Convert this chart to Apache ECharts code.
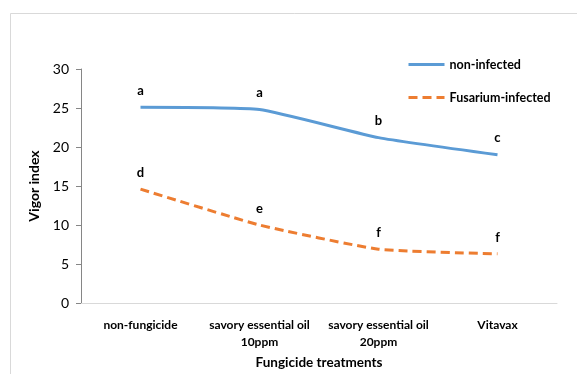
<!DOCTYPE html>
<html>
<head>
<meta charset="utf-8">
<script src="https://cdn.jsdelivr.net/npm/echarts@6/dist/echarts.min.js"></script>
<style>
  html, body { margin: 0; padding: 0; background: #fff; }
  #main { width: 577px; height: 374px; }
</style>
</head>
<body>
<div id="main"></div>
<script>
  // 处理名称
  var categories = ['non-fungicide', 'savory essential oil\n10ppm', 'savory essential oil\n20ppm', 'Vitavax']
  var nonInfected = [25.1, 24.8, 21.2, 19.0]
  var fusariumInfected = [14.6, 10.0, 6.9, 6.3]
  // 显著性字母
  var lettersNon = ['a', 'a', 'b', 'c']
  var lettersFus = ['d', 'e', 'f', 'f']
  var yTicks = [0, 5, 10, 15, 20, 25, 30]

  var font = 'Lato, "Open Sans", sans-serif'
  var myChart = echarts.init(document.getElementById('main'))

  function letterLabel(letters) {
    return {
      show: true,
      position: 'top',
      distance: 10,
      fontFamily: font,
      fontWeight: 'bold',
      fontSize: 13,
      color: '#000',
      formatter: function (p) { return letters[p.dataIndex] }
    }
  }

  var option = {
    backgroundColor: '#fff',
    animation: false,
    graphic: [{
      type: 'rect',
      shape: { x: 10.5, y: 13.5, width: 600, height: 400 },
      style: { fill: 'none', stroke: '#d9d9d9', lineWidth: 1 },
      silent: true
    }],
    legend: {
      orient: 'vertical',
      left: 402,
      top: 53,
      itemWidth: 36,
      itemHeight: 14,
      itemGap: 20,
      itemStyle: { opacity: 0 },
      lineStyle: { width: 3 },
      textStyle: { fontFamily: font, fontWeight: 'bold', fontSize: 12.5, color: '#000' },
      data: ['non-infected', 'Fusarium-infected']
    },
    grid: { left: 81, right: 20, top: 69, bottom: 71, outerBoundsMode: 'none', containLabel: false },
    xAxis: {
      type: 'category',
      data: categories,
      boundaryGap: true,
      name: 'Fungicide treatments',
      nameLocation: 'middle',
      nameGap: 52,
      nameTextStyle: { fontFamily: font, fontWeight: 'bold', fontSize: 13.5, color: '#000' },
      axisLine: { lineStyle: { color: '#d9d9d9', width: 1 } },
      axisTick: { show: false },
      axisLabel: {
        margin: 14,
        fontFamily: font, fontWeight: 'bold', fontSize: 12, color: '#000', lineHeight: 17,
        interval: 0
      }
    },
    yAxis: {
      type: 'value',
      min: 0,
      max: 30,
      interval: 5,
      name: 'Vigor index',
      nameLocation: 'middle',
      nameGap: 40,
      nameTextStyle: { fontFamily: font, fontWeight: 'bold', fontSize: 14, color: '#000' },
      axisLine: { show: true, lineStyle: { color: '#868686', width: 1 } },
      axisTick: { show: true, length: 5, lineStyle: { color: '#868686' } },
      splitLine: { show: false },
      axisLabel: {
        margin: 12,
        fontFamily: font, fontSize: 14, color: '#000',
        formatter: function (v) { return yTicks.indexOf(v) >= 0 ? String(v) : '' }
      }
    },
    series: [{
      name: 'non-infected',
      type: 'line',
      data: nonInfected,
      smooth: 0.15,
      symbol: 'circle',
      symbolSize: 0.01,
      lineStyle: { color: '#5b9bd5', width: 3 },
      itemStyle: { color: '#5b9bd5' },
      label: letterLabel(lettersNon)
    }, {
      name: 'Fusarium-infected',
      type: 'line',
      data: fusariumInfected,
      smooth: 0.15,
      symbol: 'circle',
      symbolSize: 0.01,
      lineStyle: { color: '#ed7d31', width: 3, type: [9, 5] },
      itemStyle: { color: '#ed7d31' },
      label: letterLabel(lettersFus)
    }]
  }

  myChart.setOption(option)
</script>
</body>
</html>
